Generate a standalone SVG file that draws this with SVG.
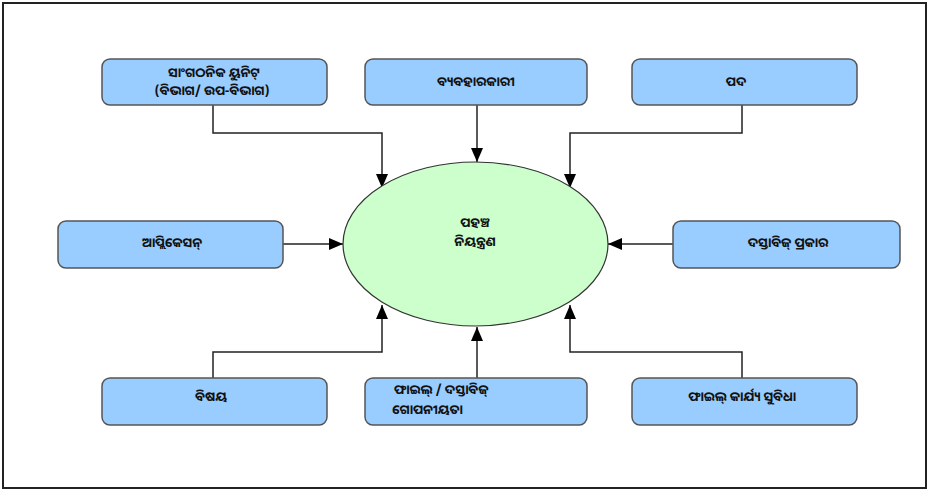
<svg xmlns="http://www.w3.org/2000/svg" width="930" height="492" viewBox="0 0 930 492">
<style>
.box{fill:#99ccff;stroke:#555;stroke-width:1.5}
.t{font-family:"Noto Sans Oriya","Lohit Odia","Noto Sans","DejaVu Sans",sans-serif;font-size:13px;font-weight:bold;fill:#111;text-anchor:middle}
.c{fill:none;stroke:#222;stroke-width:1.5}
</style>
<defs>
<marker id="ah" viewBox="0 0 14 12" refX="14" refY="6" markerWidth="14" markerHeight="12" markerUnits="userSpaceOnUse" orient="auto">
<path d="M0,0 L14,6 L0,12 Z" fill="#000"/>
</marker>
</defs>
<rect x="0" y="0" width="930" height="492" fill="#fff"/>
<rect x="3" y="3" width="923" height="485" fill="none" stroke="#222" stroke-width="2"/>
<g id="connectors">
<path class="c" d="M213,105 V133 H382 V188" marker-end="url(#ah)"/>
<path class="c" d="M477,105 V162" marker-end="url(#ah)"/>
<path class="c" d="M742,105 V133 H570 V188" marker-end="url(#ah)"/>
<path class="c" d="M283,244 H343" marker-end="url(#ah)"/>
<path class="c" d="M673,244 H608" marker-end="url(#ah)"/>
<path class="c" d="M213,378 V352 H382 V305" marker-end="url(#ah)"/>
<path class="c" d="M477,378 V327" marker-end="url(#ah)"/>
<path class="c" d="M742,378 V352 H570 V305" marker-end="url(#ah)"/>
</g>
<g id="center">
<ellipse cx="475.5" cy="244" rx="132.5" ry="82" fill="#ccffcc" stroke="#333" stroke-width="1.2"/>
<text class="t" x="475" y="227">ପହଞ୍ଚ</text>
<text class="t" x="475" y="246">ନିୟନ୍ତ୍ରଣ</text>
</g>
<g id="n1">
<rect class="box" x="102" y="59" width="225" height="46" rx="8"/>
<text class="t" x="214" y="77">ସାଂଗଠନିକ ୟୁନିଟ୍</text>
<text class="t" x="212" y="95">(ବିଭାଗ/ ଉପ-ବିଭାଗ)</text>
</g>
<g id="n2">
<rect class="box" x="365" y="59" width="222" height="46" rx="8"/>
<text class="t" x="476" y="86">ବ୍ୟବହାରକାରୀ</text>
</g>
<g id="n3">
<rect class="box" x="632" y="59" width="225" height="46" rx="8"/>
<text class="t" x="736" y="86">ପଦ</text>
</g>
<g id="n4">
<rect class="box" x="58" y="221" width="225" height="47" rx="8"/>
<text class="t" x="172" y="247">ଆପ୍ଲିକେସନ୍</text>
</g>
<g id="n5">
<rect class="box" x="673" y="221" width="227" height="47" rx="8"/>
<text class="t" x="788" y="247">ଦସ୍ତାବିଜ୍ ପ୍ରକାର</text>
</g>
<g id="n6">
<rect class="box" x="102" y="378" width="225" height="47" rx="8"/>
<text class="t" x="211" y="401">ବିଷୟ</text>
</g>
<g id="n7">
<rect class="box" x="365" y="378" width="222" height="47" rx="8"/>
<text class="t" x="394" y="394" style="text-anchor:start">ଫାଇଲ୍ / ଦସ୍ତାବିଜ୍</text>
<text class="t" x="392" y="414" style="text-anchor:start">ଗୋପନୀୟତା</text>
</g>
<g id="n8">
<rect class="box" x="632" y="378" width="225" height="47" rx="8"/>
<text class="t" x="742" y="401">ଫାଇଲ୍ କାର୍ଯ୍ୟ ସୁବିଧା</text>
</g>
</svg>
